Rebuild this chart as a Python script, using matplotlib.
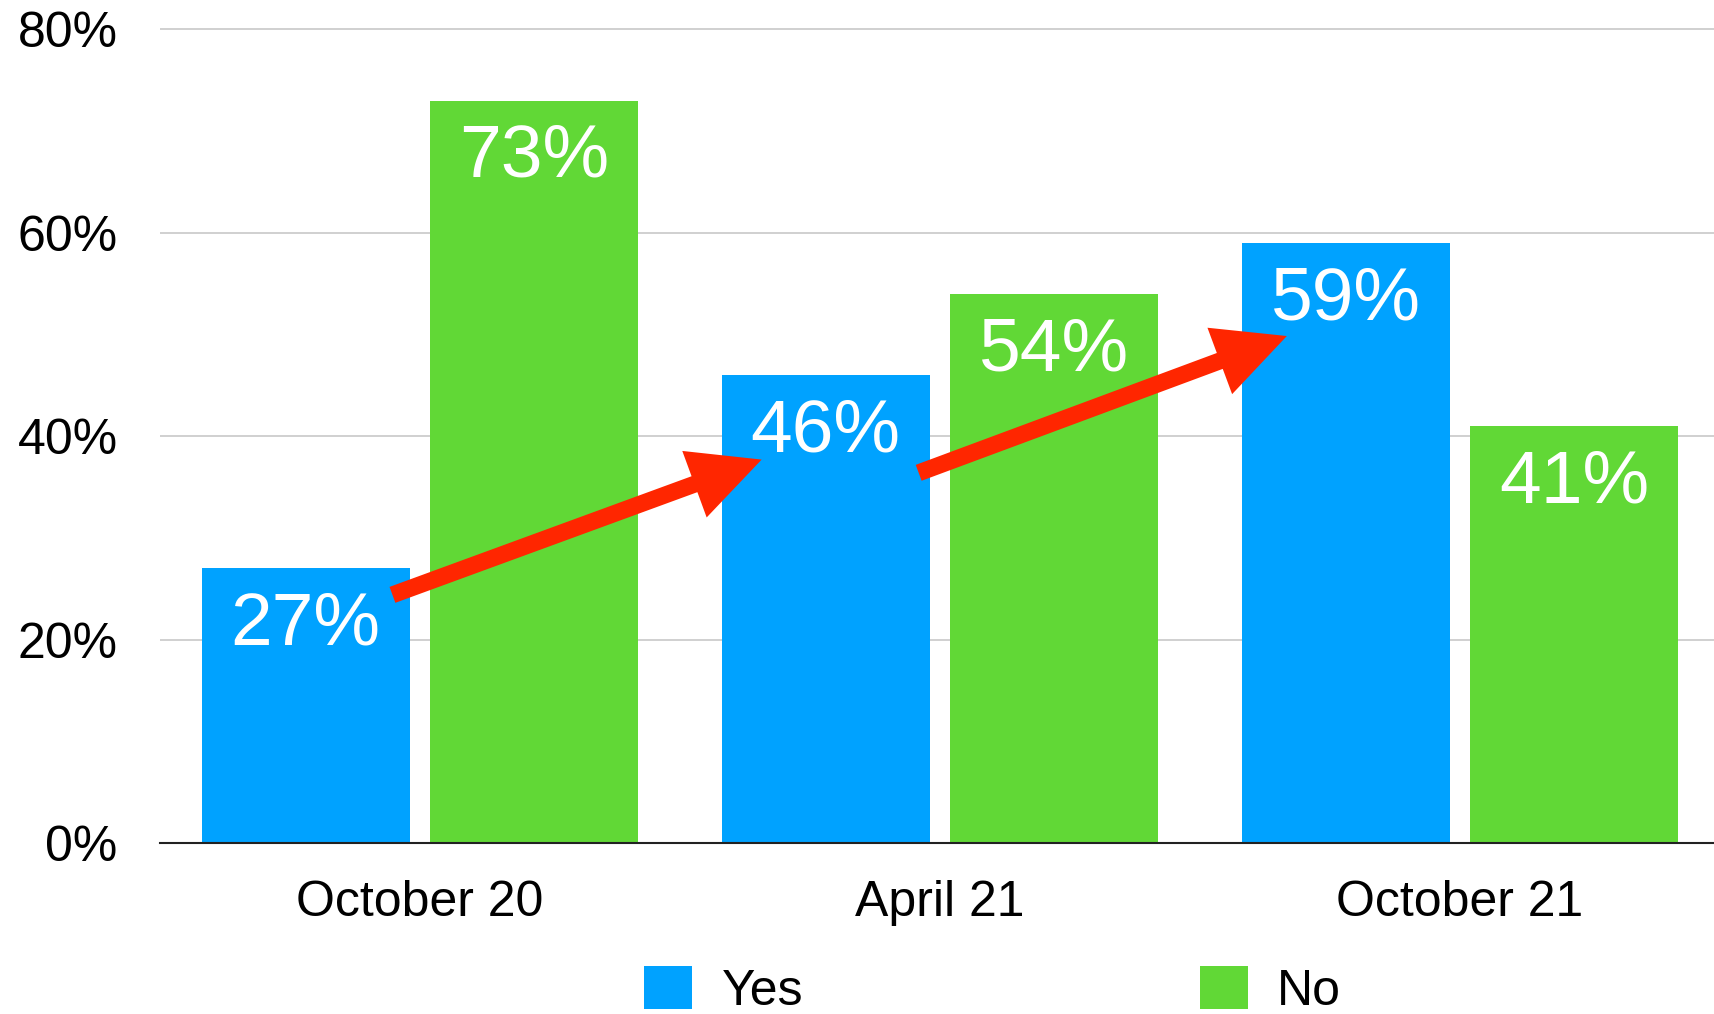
"""
Yes / No poll results for three survey waves, grouped bar chart with trend arrows.
"""
import numpy as np
import matplotlib
matplotlib.use("Agg")
import matplotlib.pyplot as plt

plt.rcParams["font.family"] = ["Liberation Sans", "DejaVu Sans"]

# data
categories = ["October 20", "April 21", "October 21"]
yes_values = [27, 46, 59]
no_values = [73, 54, 41]
series_names = ["Yes", "No"]
y_ticks = [0, 20, 40, 60, 80]

# trend arrows (data coords): tail -> tip
arrow_tails = [(-0.053, 24.4), (0.959, 36.4)]
arrow_tips = [(0.657, 37.7), (1.667, 49.85)]

BLUE = "#00A2FF"
GREEN = "#61D836"
RED = "#FF2600"


def plot_chart(save_path="out.png"):
    W, H = 1714, 1014
    fig = plt.figure(figsize=(W / 100, H / 100), dpi=100)
    # axes placed in pixels: left edge 160, baseline 843, 10.17 px per %
    px_per_pct = 10.17
    ymax = 80.3
    ax_h = ymax * px_per_pct
    ax = fig.add_axes([160 / W, (H - 843) / H, (W - 160) / W, ax_h / H])

    x = np.arange(len(categories))
    width = 0.4
    off = 0.22
    b1 = ax.bar(x - off, yes_values, width, color=BLUE, label=series_names[0], zorder=2)
    b2 = ax.bar(x + off, no_values, width, color=GREEN, label=series_names[1], zorder=2)

    for bars, vals in [(b1, yes_values), (b2, no_values)]:
        for rect, v in zip(bars, vals):
            ax.annotate(f"{v}%", (rect.get_x() + rect.get_width() / 2, v),
                        xytext=(0, -55), textcoords="offset points",
                        ha="center", va="baseline", color="white", fontsize=54,
                        zorder=4)

    for tail, tip in zip(arrow_tails, arrow_tips):
        ax.annotate("", xy=tip, xytext=tail, annotation_clip=False,
                    arrowprops=dict(arrowstyle="simple,head_length=51.5,head_width=51,tail_width=12.2",
                                    mutation_scale=1, fc=RED, ec=RED, lw=0,
                                    shrinkA=0, shrinkB=0),
                    zorder=5)

    ax.set_xlim(-0.5, (W - 160) / 520 - 0.5)
    ax.set_ylim(0, ymax)
    ax.set_xticks(x)
    ax.set_xticklabels(categories, fontsize=36)
    ax.set_yticks(y_ticks)
    ax.set_yticklabels([f"{t}%" for t in y_ticks], fontsize=36)
    ax.tick_params(axis="both", length=0)
    ax.tick_params(axis="x", pad=27)
    ax.tick_params(axis="y", pad=30.5)

    ax.yaxis.grid(True, color="#C4C4C4", linewidth=1.1)
    ax.set_axisbelow(True)
    for s in ["top", "right", "left"]:
        ax.spines[s].set_visible(False)
    ax.spines["bottom"].set_color("#222222")
    ax.spines["bottom"].set_linewidth(1.5)
    ax.spines["bottom"].set_zorder(3)

    fig.legend(handles=[b1, b2], labels=series_names, loc="upper left",
               bbox_to_anchor=(644 / W, 1 - 966 / H), ncol=2, frameon=False,
               fontsize=36, handlelength=0.96, handleheight=0.96,
               handletextpad=0.59, columnspacing=7.93, borderpad=0,
               borderaxespad=0)

    fig.savefig(save_path, dpi=100)


if __name__ == "__main__":
    plot_chart()
